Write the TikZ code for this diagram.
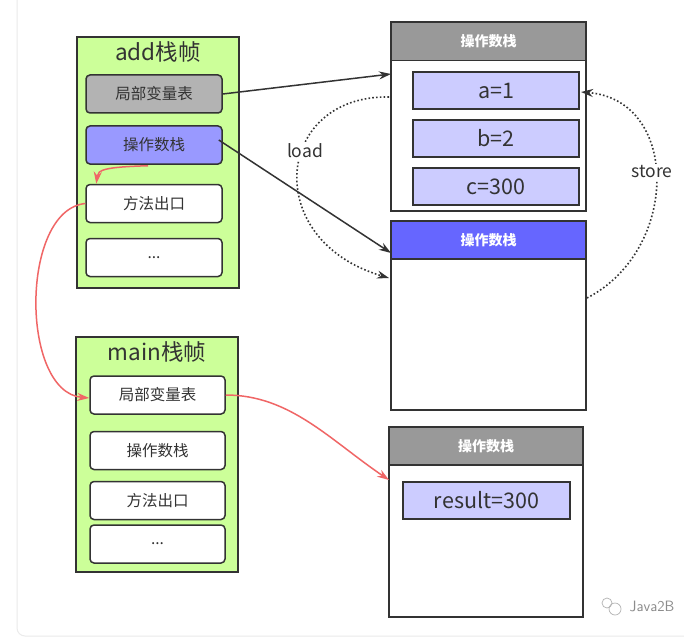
\documentclass[tikz,border=0pt]{standalone}
\usepackage{fontspec}
\setmainfont{Noto Sans CJK SC}
\usetikzlibrary{arrows.meta,calc}
\definecolor{frgreen}{HTML}{CCFF99}
\definecolor{lvgray}{HTML}{B3B3B3}
\definecolor{opblue}{HTML}{9999FF}
\definecolor{hdblue}{HTML}{6666FF}
\definecolor{hdgray}{HTML}{999999}
\definecolor{valblue}{HTML}{CCCCFF}
\definecolor{ink}{HTML}{333333}
\definecolor{redln}{HTML}{F06666}
\tikzset{
  frame/.style={draw=ink, line width=1.6pt, fill=frgreen, minimum width=162pt, inner sep=0pt},
  ftitle/.style={text=ink, font=\fontsize{22.5}{26}\selectfont},
  slot/.style={draw=ink, line width=1.5pt, rounded corners=4pt, minimum width=136pt, minimum height=38pt, inner sep=0pt, text=ink, font=\fontsize{15.5}{18}\selectfont},
  stackbox/.style={draw=ink, line width=1.6pt, fill=white, minimum width=195pt, minimum height=189pt, inner sep=0pt},
  header/.style={draw=ink, line width=1.6pt, minimum width=195pt, minimum height=38pt, inner sep=0pt, text=white, font=\fontsize{14}{16}\selectfont\bfseries},
  valbox/.style={draw=ink, line width=1.5pt, fill=valblue, minimum width=166pt, minimum height=37pt, inner sep=0pt, text=ink, font=\fontsize{21.5}{24}\selectfont},
  darkarrow/.style={draw=ink, line width=1.5pt, -{Stealth[length=12pt,width=8pt]}},
  dotarrow/.style={draw=ink, line width=1.6pt, dash pattern=on 1.6pt off 2.2pt, -{Stealth[length=12pt,width=8pt]}},
  redarrow/.style={draw=redln, line width=1.5pt, -{Stealth[length=12pt,width=8pt]}},
  edgelabel/.style={fill=white, text=ink, inner sep=2pt, font=\fontsize{17.5}{20}\selectfont},
}
\begin{document}
\begin{tikzpicture}[x=1pt,y=-1pt]
\useasboundingbox (0,0) rectangle (684,639);
\fill[white] (0,0) rectangle (684,639);
% outer light frame
\draw[draw=black!8, line width=1pt] (17,-5) -- (17,628) arc[start angle=180,end angle=90,radius=8] -- (690,636);

% add frame
\node[frame, minimum height=251pt] (addf) at (158,162.5) {};
\node[ftitle] (addt) at (158,52) {add栈帧};
\node[slot, fill=lvgray] (alv) at (154,94) {局部变量表};
\node[slot, fill=opblue] (aop) at (154,145) {操作数栈};
\node[slot, fill=white] (aex) at (154,203.5) {方法出口};
\node[slot, fill=white] (adot) at (154,257.5) {...};

% main frame
\node[frame, minimum height=235pt] (mainf) at (157,454.5) {};
\node[ftitle] (maint) at (157,352) {main栈帧};
\node[slot, fill=white, minimum width=135pt] (mlv) at (157.5,395) {局部变量表};
\node[slot, fill=white, minimum width=135pt] (mop) at (157.5,450.5) {操作数栈};
\node[slot, fill=white, minimum width=135pt] (mex) at (157.5,500.5) {方法出口};
\node[slot, fill=white, minimum width=135pt] (mdot) at (157.5,544) {...};

% top stack
\node[stackbox] (tops) at (488.5,116.5) {};
\node[header, fill=hdgray] (toph) at (488.5,41.5) {操作数栈};
\node[valbox] (va) at (496,90.5) {a=1};
\node[valbox] (vb) at (496,138.5) {b=2};
\node[valbox] (vc) at (496,186.5) {c=300};

% middle stack
\node[stackbox] (mids) at (488.5,315.5) {};
\node[header, fill=hdblue] (midh) at (488.5,240) {操作数栈};

% bottom stack
\node[stackbox, minimum width=194pt, minimum height=190pt] (bots) at (486,522) {};
\node[header, fill=hdgray, minimum width=194pt] (both) at (486,446) {操作数栈};
\node[valbox, minimum width=167pt] (vr) at (486.5,500.5) {result=300};

% connector end points
\coordinate (t1) at (391,74);
\coordinate (m1) at (391,253);
\coordinate (ldS) at (389,97);
\coordinate (ldE) at (389,278);
\coordinate (stS) at (587,298);
\coordinate (stE) at (581,92);
\coordinate (rE) at (389,480);

% load / store
\draw[dotarrow] (ldS) .. controls (275,95) and (260,240) .. (ldE);
\node[edgelabel] (load) at (305,151) {load};
\draw[dotarrow] (stS) .. controls (680,250) and (680,100) .. (stE);
\node[edgelabel] (store) at (652,172) {store};

% dark arrows
\draw[darkarrow] (alv.east) -- (t1);
\draw[darkarrow] ($(aop.east)+(-4,-5)$) -- (m1);

% red arrows
\draw[redarrow] ($(aop.south)+(-6,1)$) .. controls (104,167) and (98,170) .. ($(aex.north west)+(11,0)$);
\draw[redarrow] (aex.west) .. controls (20,210) and (20,392) .. ($(mlv.west)+(0,3)$);
\draw[redarrow] (mlv.east) .. controls (290,395) and (330,440) .. (rE);

% watermark
\node[text=black!45, font=\fontsize{15}{17}\selectfont\sffamily, inner sep=0pt] (wm) at (652,606) {Java2B};
\draw[black!30, line width=0.7pt] (607,603) circle[radius=5];
\draw[black!30, line width=0.7pt] (615,609) circle[radius=6];
\end{tikzpicture}
\end{document}
